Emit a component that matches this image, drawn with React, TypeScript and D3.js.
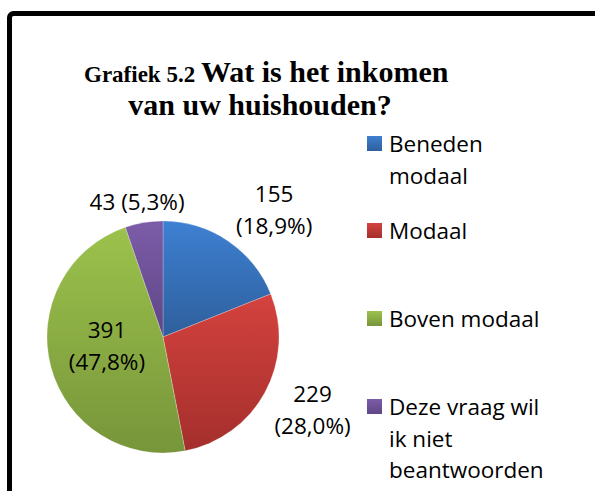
import React from "react";
import * as d3 from "d3";

const categories = ["Beneden modaal", "Modaal", "Boven modaal", "Deze vraag wil ik niet beantwoorden"];
const legendLines = [["Beneden", "modaal"], ["Modaal"], ["Boven modaal"], ["Deze vraag wil", "ik niet", "beantwoorden"]];
const counts = [155, 229, 391, 43];
const labelLines = [["155", "(18,9%)"], ["229", "(28,0%)"], ["391", "(47,8%)"], ["43 (5,3%)"]];
const colorsTop = ["#3e80d2", "#d4423e", "#9cc24c", "#7c5ca8"];
const colorsBottom = ["#2e5f9c", "#a42f2c", "#77953a", "#5f4686"];

const W = 595, H = 491;
const cx = 163, cy = 337, R = 116;
const bodyFont = "'Open Sans', 'Noto Sans', sans-serif";
const titleFont = "'Liberation Serif', 'DejaVu Serif', serif";

export default function App() {
  const pie = d3.pie<number>().sort(null).value((d) => d);
  const arcs = pie(counts);
  const arc = d3.arc<d3.PieArcDatum<number>>().innerRadius(0).outerRadius(R);
  const fs = 22.5;
  const lh = 32;

  // Excel-like placement: box corner touches a point just outside the rim
  const labelCenter = (a: d3.PieArcDatum<number>, i: number) => {
    const mid = (a.startAngle + a.endAngle) / 2;
    const share = (a.endAngle - a.startAngle) / (2 * Math.PI);
    const n = labelLines[i].length;
    const maxLen = d3.max(labelLines[i], (t) => t.length) || 1;
    const halfW = (maxLen * fs * 0.55) / 2;
    const halfH = (n * lh) / 2;
    const s = Math.sin(mid), c = Math.cos(mid);
    if (share > 0.4) {
      const rr = R * 0.5;
      return [cx + rr * s, cy - rr * c - 6];
    }
    const ar = R + 5;
    const ax = cx + ar * s, ay = cy - ar * c;
    const kx = Math.sign(s) * Math.min(1, Math.pow(Math.abs(s) / 0.5, 2));
    return [ax + halfW * kx, ay - halfH * c];
  };

  const legendX = 367;
  const legendY = [136, 223, 311, 399];

  return (
    <svg width={W} height={H} style={{ position: "absolute", left: 0, top: 0, background: "#fff" }}>
      <defs>
        {counts.map((_, i) => (
          <linearGradient key={i} id={`g${i}`} x1="0" y1="0" x2="0" y2="1">
            <stop offset="0" stopColor={colorsTop[i]} />
            <stop offset="1" stopColor={colorsBottom[i]} />
          </linearGradient>
        ))}
      </defs>
      <rect x={9.5} y={13.5} width={640} height={540} rx={4} fill="#fff" stroke="#000" strokeWidth={5} />
      <text x={84} y={82} fontFamily={titleFont} fontWeight="bold" fill="#000">
        <tspan fontSize={23}>Grafiek 5.2 </tspan>
        <tspan fontSize={30}>Wat is het inkomen</tspan>
      </text>
      <text x={260} y={115} textAnchor="middle" fontFamily={titleFont} fontWeight="bold" fontSize={30} fill="#000">
        van uw huishouden?
      </text>
      <g>
        {arcs.map((a, i) => (
          <path key={i} d={arc(a) || ""} transform={`translate(${cx},${cy})`} fill={`url(#g${i})`} stroke="#fff" strokeWidth={0.4} strokeOpacity={0.6} />
        ))}
      </g>
      <g fontFamily={bodyFont} fontSize={fs} fill="#000">
        {arcs.map((a, i) => {
          const [x, y] = labelCenter(a, i);
          const n = labelLines[i].length;
          return (
            <text key={i} x={x} y={y - ((n - 1) * lh) / 2 + fs * 0.36} textAnchor="middle">
              {labelLines[i].map((t, j) => (
                <tspan key={j} x={x} dy={j === 0 ? 0 : lh}>{t}</tspan>
              ))}
            </text>
          );
        })}
      </g>
      <g fontFamily={bodyFont} fontSize={fs} fill="#000">
        {categories.map((c, i) => (
          <g key={c}>
            <rect x={legendX} y={legendY[i]} width={15} height={15} fill={`url(#g${i})`} />
            <text x={389} y={legendY[i] + 16}>
              {legendLines[i].map((t, j) => (
                <tspan key={j} x={389} dy={j === 0 ? 0 : 31.7}>{t}</tspan>
              ))}
            </text>
          </g>
        ))}
      </g>
    </svg>
  );
}
